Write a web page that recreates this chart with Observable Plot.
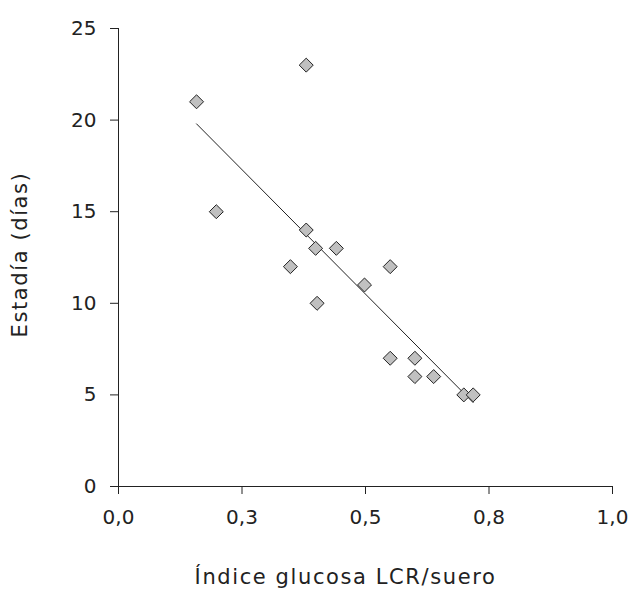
<!DOCTYPE html>
<html>
<head>
<meta charset="utf-8">
<script src="https://cdn.jsdelivr.net/npm/d3@7"></script>
<script src="https://cdn.jsdelivr.net/npm/@observablehq/plot@0.6"></script>
<style>
  html, body { margin: 0; padding: 0; background: #fff; }
</style>
</head>
<body>
<div id="chart"></div>
<script>
// Data
const glucoseIndex = [0.158, 0.198, 0.348, 0.38, 0.38, 0.399, 0.402, 0.441, 0.498, 0.55, 0.55, 0.60, 0.60, 0.638, 0.699, 0.718];
const stayDays     = [21,    15,    12,    23,   14,   13,    10,    13,    11,    12,   7,    7,    6,    6,     5,     5];

const xTicks = [0, 0.25, 0.5, 0.75, 1];
const xTickLabels = ["0,0", "0,3", "0,5", "0,8", "1,0"];
const yTicks = [0, 5, 10, 15, 20, 25];

const xTitle = "Índice glucosa LCR/suero";
const yTitle = "Estadía (días)";

const points = glucoseIndex.map((g, i) => ({x: g, y: stayDays[i]}));

const chart = Plot.plot({
  width: 629,
  height: 600,
  marginLeft: 118,
  marginRight: 17,
  marginTop: 28,
  marginBottom: 114,
  style: {fontFamily: "DejaVu Sans", fontSize: "20px", color: "#222", background: "#fff"},
  x: {domain: [0, 1]},
  y: {domain: [0, 25]},
  marks: [
    Plot.axisY({ticks: yTicks, tickSize: 8, tickPadding: 14, label: null, stroke: "#222"}),
    Plot.axisX({ticks: xTicks, tickSize: 8, tickPadding: 15, label: null, stroke: "#222",
                tickFormat: (d) => xTickLabels[xTicks.indexOf(d)]}),
    Plot.ruleX([0], {stroke: "#222"}),
    Plot.ruleY([0], {stroke: "#222"}),
    Plot.linearRegressionY(points, {x: "x", y: "y", ci: 0, stroke: "#222", strokeWidth: 1}),
    Plot.dot(points, {x: "x", y: "y", symbol: "diamond2", r: 6.3, fill: "#c0c0c0", stroke: "#222", strokeWidth: 1}),
    Plot.text([xTitle], {frameAnchor: "bottom", textAnchor: "middle", lineAnchor: "middle", dx: -20, dy: 91, fontSize: 21, fill: "#222"}),
    Plot.text([yTitle], {frameAnchor: "left", textAnchor: "middle", lineAnchor: "middle", rotate: -90, dx: -98, dy: -3, fontSize: 21, fill: "#222"})
  ]
});
d3.select(chart).selectAll("text")
  .filter(function () { return this.textContent === xTitle || this.textContent === yTitle; })
  .style("letter-spacing", "1.6px");
document.getElementById("chart").appendChild(chart);
</script>
</body>
</html>
